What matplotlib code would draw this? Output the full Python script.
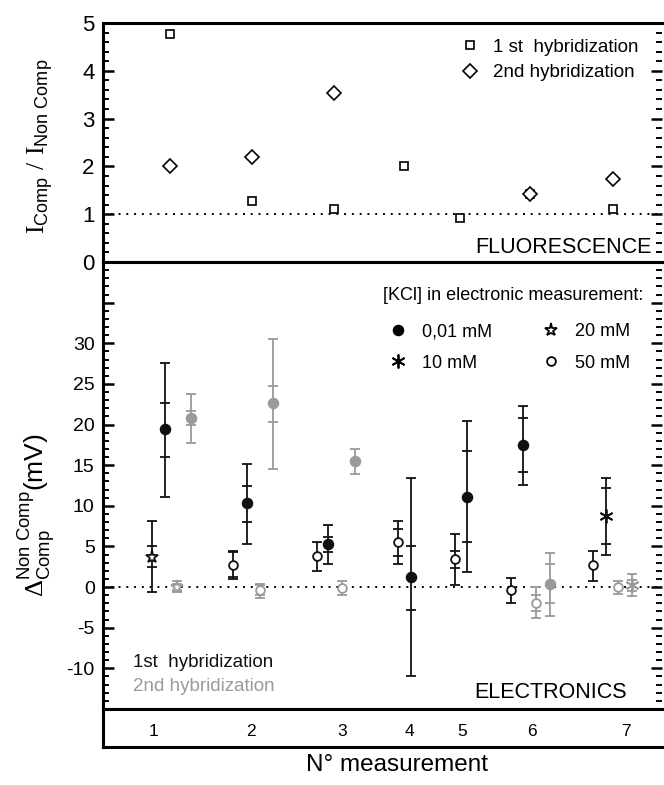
import numpy as np
import matplotlib
matplotlib.use('Agg')
import matplotlib.pyplot as plt
from matplotlib.lines import Line2D
from matplotlib.ticker import MultipleLocator, FuncFormatter

plt.rcParams['font.family'] = ['Liberation Sans', 'DejaVu Sans']
plt.rcParams['mathtext.fontset'] = 'custom'
plt.rcParams['mathtext.rm'] = 'Liberation Serif'
plt.rcParams['mathtext.sf'] = 'Liberation Sans'
plt.rcParams['mathtext.it'] = 'Liberation Sans:italic'

# ---- fluorescence (top panel) ----
fluo_x = [12.0, 26.7, 41.4, 53.8, 63.8, 76.3, 91.2]
fluo_1st = [4.76, 1.28, 1.10, 2.00, 0.92, 1.42, 1.10]
fluo_2nd = [2.01, 2.19, 3.53, np.nan, np.nan, 1.42, 1.73]

# ---- electronics (bottom panel) ----
# hyb: 1 = 1st hybridization, 2 = 2nd ; kcl in mM
elec_x = [8.7, 11.1, 13.3, 15.7, 23.3, 25.8, 28.0, 30.4, 38.2, 40.3, 42.8, 45.0,
          52.8, 55.1, 62.9, 65.2, 72.9, 75.2, 77.5, 79.9, 87.6, 90.0, 92.2, 94.6]
elec_y = [3.7, 19.4, 0.0, 20.8, 2.75, 10.3, -0.4, 22.6, 3.8, 5.3, -0.1, 15.5,
          5.5, 1.2, 3.5, 11.1, -0.3, 17.5, -1.9, 0.4, 2.7, 8.7, 0.0, 0.2]
elec_lo = [-0.6, 11.1, -0.6, 17.7, 1.0, 5.3, -1.3, 14.5, 2.0, 2.9, -1.0, 13.9,
           2.8, -11.0, 0.3, 1.8, -1.9, 12.6, -3.8, -3.5, 0.8, 4.0, -0.8, -1.1]
elec_hi = [8.1, 27.6, 0.7, 23.8, 4.5, 15.1, 0.4, 30.5, 5.5, 7.6, 0.8, 17.0,
           8.1, 13.4, 6.5, 20.4, 1.1, 22.3, 0.0, 4.2, 4.4, 13.4, 0.7, 1.6]
elec_in_lo = [2.5, 16.0, -0.3, 20.0, 1.2, 8.0, -1.0, 20.3, np.nan, 4.3, np.nan, np.nan,
              3.8, -2.8, 2.4, 5.5, np.nan, 14.1, -3.0, -1.9, np.nan, 5.3, np.nan, -0.5]
elec_in_hi = [5.0, 22.6, 0.4, 21.7, 4.3, 12.4, 0.2, 24.8, np.nan, 6.2, np.nan, np.nan,
              7.1, 5.0, 4.4, 16.7, np.nan, 20.8, -1.0, 2.8, np.nan, 12.2, np.nan, 0.9]
elec_hyb = [1, 1, 2, 2, 1, 1, 2, 2, 1, 1, 2, 2, 1, 1, 1, 1, 1, 1, 2, 2, 1, 1, 2, 2]
elec_kcl = [20, 0.01, 20, 0.01, 50, 0.01, 50, 0.01, 50, 0.01, 50, 0.01,
            50, 0.01, 50, 0.01, 50, 0.01, 50, 0.01, 50, 10, 50, 10]

meas_labels = ['1', '2', '3', '4', '5', '6', '7']
meas_label_x = [9.1, 26.5, 42.7, 54.8, 64.3, 76.7, 93.5]

hyb_colors = {1: '#111111', 2: '#9a9a9a'}
kcl_styles = {0.01: dict(marker='o', ms=7, filled=True),
              10: dict(marker=(6, 2, 0), ms=10, filled=True),
              20: dict(marker='*', ms=9.5, filled=False),
              50: dict(marker='o', ms=6.3, filled=False)}

fig = plt.figure(figsize=(6.64, 7.85), dpi=100)
L = 103 / 664
W = (662 - 103) / 664
ax1 = fig.add_axes([L, 1 - 262 / 785, W, 239 / 785])
ax2 = fig.add_axes([L, 1 - 709 / 785, W, 447 / 785])
ax3 = fig.add_axes([L, 1 - 747 / 785, W, 38 / 785])

for ax in (ax1, ax2, ax3):
    ax.set_xlim(0, 100)
    for s in ('left', 'top', 'bottom'):
        ax.spines[s].set_linewidth(2.2)
    ax.spines['right'].set_visible(False)

for ax in (ax1, ax2):
    ax.tick_params(axis='x', which='both', bottom=False, labelbottom=False)
    ax.tick_params(axis='y', which='both', direction='in', left=True, right=True)
    ax.tick_params(axis='y', which='major', length=8, width=1.8, pad=6)
    ax.tick_params(axis='y', which='minor', length=4, width=1.4)

# top panel
ax1.set_ylim(0, 5)
ax1.yaxis.set_major_locator(MultipleLocator(1))
ax1.yaxis.set_minor_locator(MultipleLocator(0.2))
ax1.tick_params(axis='y', labelsize=16)
ax1.axhline(1, color='k', lw=1.4, ls=(0, (1, 3)))
ax1.plot(fluo_x, fluo_1st, ls='none', marker='s', ms=6, mfc='white', mec='k',
         mew=1.2, label='1 st  hybridization')
ax1.plot(fluo_x, fluo_2nd, ls='none', marker='D', ms=7, mfc='white', mec='k',
         mew=1.2, label='2nd hybridization')
ax1.legend(loc='upper right', bbox_to_anchor=(0.958, 0.935), frameon=False,
           fontsize=13.5, handlelength=1, handletextpad=0.75, labelspacing=0.45,
           borderaxespad=0, borderpad=0)
ax1.text(0.982, 0.06, 'FLUORESCENCE', transform=ax1.transAxes, ha='right',
         va='center', fontsize=15.5)
ax1.set_ylabel(r'$\mathrm{I}_{\mathsf{Comp}}\ /\ \mathrm{I}_{\mathsf{Non\ Comp}}$',
               fontsize=18.5)
ax1.yaxis.set_label_coords(-0.085, 0.485)

# bottom panel
ax2.set_ylim(-15, 40)
ax2.yaxis.set_major_locator(MultipleLocator(5))
ax2.yaxis.set_minor_locator(MultipleLocator(1))
ax2.yaxis.set_major_formatter(FuncFormatter(
    lambda v, p: '%d' % v if -10 <= v <= 30 else ''))
ax2.tick_params(axis='y', labelsize=14)
ax2.axhline(0, color='k', lw=1.4, ls=(0, (1, 3)), zorder=1)

x = np.array(elec_x)
y = np.array(elec_y)
lo = np.array(elec_lo)
hi = np.array(elec_hi)
ilo = np.array(elec_in_lo)
ihi = np.array(elec_in_hi)
hyb = np.array(elec_hyb)
kcl = np.array(elec_kcl)

for h, col in hyb_colors.items():
    for k, st in kcl_styles.items():
        m = (hyb == h) & np.isclose(kcl, k)
        if not m.any():
            continue
        ax2.errorbar(x[m], y[m], yerr=[y[m] - lo[m], hi[m] - y[m]], fmt='none',
                     ecolor=col, elinewidth=1.3, capsize=3.8, capthick=1.3, zorder=2)
        ax2.plot(x[m], ilo[m], ls='none', marker='_', ms=7, mew=1.3, color=col, zorder=2)
        ax2.plot(x[m], ihi[m], ls='none', marker='_', ms=7, mew=1.3, color=col, zorder=2)
        ax2.plot(x[m], y[m], ls='none', marker=st['marker'], ms=st['ms'],
                 mfc=col if st['filled'] else 'white', mec=col, mew=1.3, zorder=3)

# KCl legend: title as text, entries in two columns
ax2.text(0.501, 0.926, '[KCl] in electronic measurement:', transform=ax2.transAxes,
         ha='left', va='center', fontsize=13)
handles = []
for k, lab in [(0.01, '0,01 mM'), (10, '10 mM'), (20, '20 mM'), (50, '50 mM')]:
    st = kcl_styles[k]
    handles.append(Line2D([], [], ls='none', marker=st['marker'], ms=st['ms'],
                          mfc='k' if st['filled'] else 'white', mec='k', mew=1.3,
                          label=lab))
ax2.legend(handles=handles, ncol=2, loc='upper left',
           bbox_to_anchor=(0.512, 0.863), frameon=False, fontsize=13,
           handlelength=1, handletextpad=0.8, columnspacing=2.8,
           labelspacing=0.8, borderaxespad=0, borderpad=0)

ax2.text(0.054, 0.103, '1st  hybridization', transform=ax2.transAxes,
         ha='left', va='center', fontsize=13.5, color='#111111')
ax2.text(0.054, 0.051, '2nd hybridization', transform=ax2.transAxes,
         ha='left', va='center', fontsize=13.5, color='#9a9a9a')
ax2.text(0.937, 0.036, 'ELECTRONICS', transform=ax2.transAxes, ha='right',
         va='center', fontsize=15.5)
ax2.set_ylabel(r'$\Delta^{\mathsf{Non\ Comp}}_{\mathsf{Comp}}\mathsf{(mV)}$',
               fontsize=19)
ax2.yaxis.set_label_coords(-0.08, 0.434)

# measurement number strip
ax3.set_ylim(0, 1)
ax3.set_xticks([])
ax3.set_yticks([])
for xm, lab in zip(meas_label_x, meas_labels):
    ax3.text(xm, 0.42, lab, ha='center', va='center', fontsize=12.5)

fig.text(397 / 664, 1 - 765 / 785, 'N° measurement', ha='center', va='center',
         fontsize=17.5)

fig.savefig('out.png', dpi=100)
